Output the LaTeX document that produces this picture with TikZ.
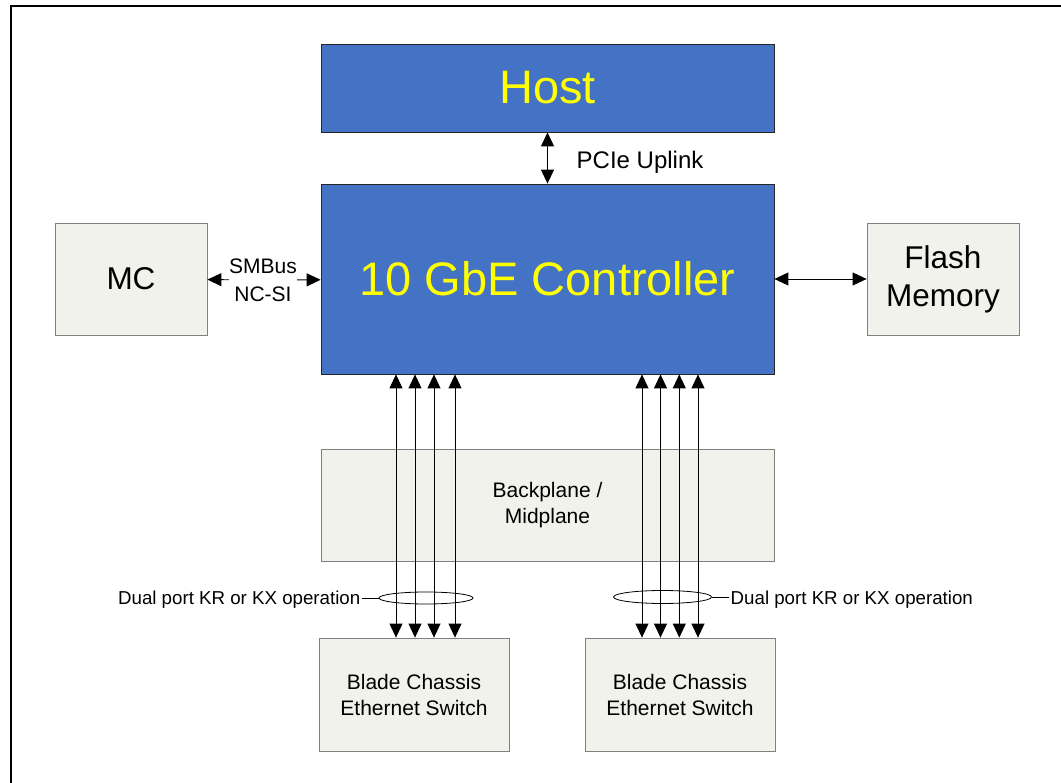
\documentclass[tikz,border=0pt]{standalone}
\usepackage{fontspec}
\setmainfont{Liberation Sans}
\usetikzlibrary{arrows.meta,shapes.geometric,positioning}
\definecolor{hostblue}{RGB}{68,114,196}
\definecolor{panel}{RGB}{242,242,236}
\definecolor{labelyellow}{RGB}{255,255,0}
\newcommand\fsz[2]{\fontsize{#1}{#2}\selectfont}

\begin{document}
\begin{tikzpicture}[x=1pt, y=-1pt,
  block/.style={rectangle, draw=black!85, line width=0.8pt, fill=hostblue,
                text=labelyellow, minimum width=453pt, inner sep=0pt,
                font=\fsz{47}{56}},
  box/.style={rectangle, draw=gray, line width=0.8pt, fill=panel,
              align=center, inner sep=0pt, font=#1},
  box/.default={\fsz{21}{26}},
  biarr/.style={{Triangle[length=14pt,width=13pt]}-{Triangle[length=14pt,width=13pt]},
                line width=0.9pt},
  arr/.style={-{Triangle[length=14pt,width=13pt]}, line width=0.9pt},
  lbl/.style={font=#1, align=center, inner sep=1.5pt}
]
  \useasboundingbox (0,0) rectangle (1061,783);

  % Frame
  \draw[line width=2.2pt] (11,783) -- (11,6) -- (1061,6);

  % Host and controller
  \node[block, minimum height=88pt] (host) at (547.5,88) {Host};
  \node[block, minimum height=190pt] (ctrl) at (547.5,279) {10 GbE Controller};

  % Side blocks
  \node[box=\fsz{31.5}{38}, minimum width=152pt, minimum height=112pt]
    (mc) at (131,279) {MC};
  \node[box=\fsz{31.5}{38}, minimum width=152pt, minimum height=112pt]
    (flash) at (943,279) {Flash\\Memory};

  % Backplane and switches
  \node[box, minimum width=453pt, minimum height=112pt] (bp) at (547.5,505) {Backplane /\\Midplane};
  \node[box, minimum width=190pt, minimum height=113pt] (bladeL) at (414,694.5) {Blade Chassis\\Ethernet Switch};
  \node[box, minimum width=190pt, minimum height=113pt] (bladeR) at (680,694.5) {Blade Chassis\\Ethernet Switch};

  % PCIe uplink
  \draw[biarr] (host.south) -- (ctrl.north);
  \node[lbl=\fsz{24}{30}, right] (pcie) at (575,162) {PCIe Uplink};

  % Management link
  \node[lbl=\fsz{21}{28}, inner xsep=0pt] (smb) at (263,280) {SMBus\\NC-SI};
  \draw[arr] (smb) -- (mc);
  \draw[arr] (smb) -- (ctrl);

  % Flash link
  \draw[biarr] (ctrl.east |- flash.west) -- (flash.west);

  % KR / KX lanes
  \foreach \dx in {-151.5,-132.5,-113.5,-92.5,94.5,113,131.8,150.5}
    \draw[biarr] ([xshift=\dx]ctrl.south) -- ([xshift=\dx]ctrl.south |- bladeL.north);

  % Lane bundles
  \node[ellipse, draw, line width=0.8pt, minimum width=94pt, minimum height=12pt,
        inner sep=0pt] (ellL) at (426,598) {};
  \node[ellipse, draw, line width=0.8pt, minimum width=98pt, minimum height=13pt,
        inner sep=0pt] (ellR) at (662.5,597) {};
  \node[lbl=\fsz{18.7}{22}, anchor=east] (dualL) at (362,600) {Dual port KR or KX operation};
  \node[lbl=\fsz{18.7}{22}, anchor=west] (dualR) at (729,600) {Dual port KR or KX operation};
  \draw[line width=0.8pt] (dualL.east |- ellL.west) -- (ellL.west);
  \draw[line width=0.8pt] (dualR.west |- ellR.east) -- (ellR.east);
\end{tikzpicture}
\end{document}
